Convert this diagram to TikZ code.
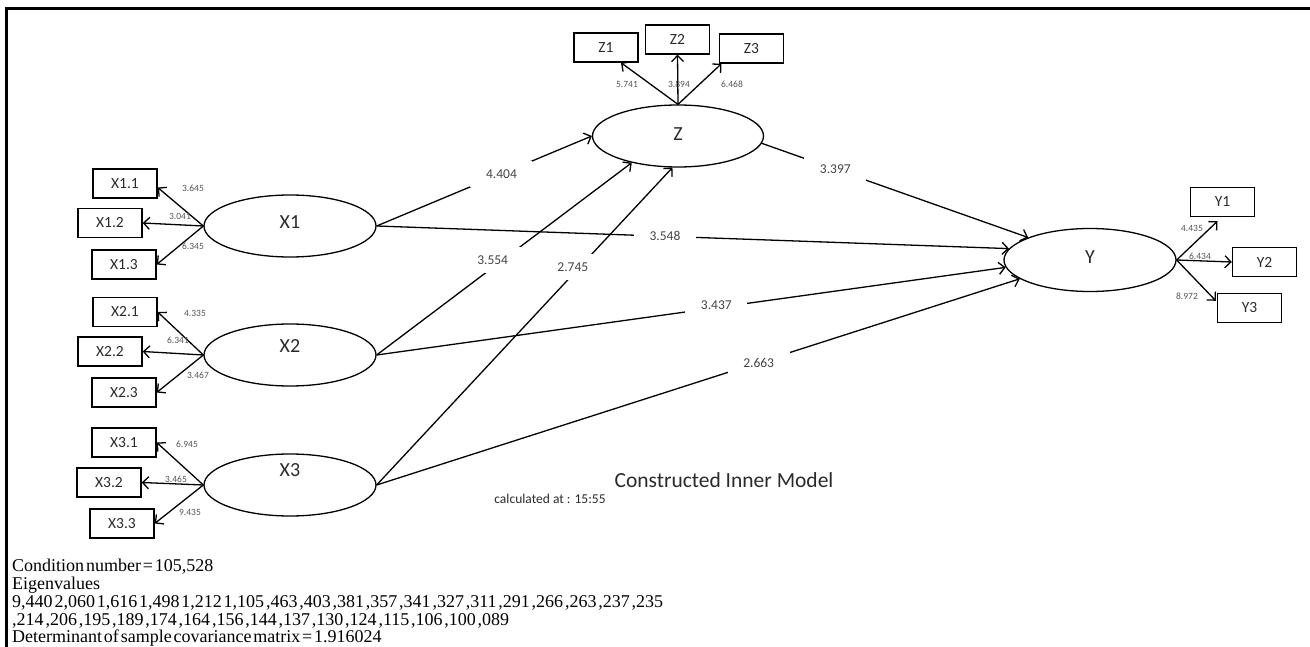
\documentclass[tikz,border=0pt]{standalone}
\usepackage{fontspec}
\setmainfont{Carlito}
\newfontfamily\bottomserif{Liberation Serif}
\usetikzlibrary{arrows.meta,shapes.geometric}
\definecolor{txt}{HTML}{2A2A2A}
\definecolor{coefc}{HTML}{444444}
\definecolor{mlc}{HTML}{555555}
\newcommand\tightsp{\spaceskip=0.1em plus 0.02em\relax}
\begin{document}
\begin{tikzpicture}[x=1pt,y=-1pt,
  ind/.style={draw, line width=1.4pt, minimum width=64pt, minimum height=29pt, inner sep=0pt, text=txt, font=\fontsize{15.5}{15.5}\selectfont},
  lat/.style={draw, ellipse, line width=1.3pt, minimum width=172pt, minimum height=62pt, inner sep=0pt},
  latlab/.style={text=txt, inner sep=0pt, font=\fontsize{20}{20}\selectfont},
  con/.style={line width=1.3pt, -{Straight Barb[length=6pt,width=12pt,line width=1.3pt]}},
  coef/.style={fill=white, inner sep=0pt, minimum width=62pt, minimum height=26pt, text=coefc, font=\fontsize{13.5}{13.5}\selectfont},
  mlab/.style={text=mlc, inner sep=0pt, font=\fontsize{9.5}{9.5}\selectfont},
  btxt/.style={anchor=base west, inner sep=0pt, font=\bottomserif\fontsize{18}{18}\selectfont},
]
\useasboundingbox (0,0) rectangle (1310,647);
% frame
\draw[line width=3pt] (6.5,647) -- (6.5,8.5) -- (1310,8.5);

% latent variables
\node[lat] (X1) at (290,226) {};
\node[lat] (X2) at (290,355) {};
\node[lat] (X3) at (290,485) {};
\node[lat, minimum width=171pt] (Z) at (678,136) {};
\node[lat, minimum height=63pt] (Y) at (1090,260) {};
\node[latlab] (X1t) at ([yshift=4pt]X1.center) {X1};
\node[latlab] (X2t) at ([yshift=9pt]X2.center) {X2};
\node[latlab] (X3t) at ([yshift=15pt]X3.center) {X3};
\node[latlab] (Zt) at ([yshift=2pt]Z.center) {Z};
\node[latlab] (Yt) at ([yshift=3pt]Y.center) {Y};

% indicators
\node[ind] (X11) at (125,183.5) {X1.1};
\node[ind] (X12) at (110,223) {X1.2};
\node[ind] (X13) at (124,264.5) {X1.3};
\node[ind] (X21) at (125,312) {X2.1};
\node[ind] (X22) at (110,351.5) {X2.2};
\node[ind] (X23) at (124,392.5) {X2.3};
\node[ind] (X31) at (124,442.5) {X3.1};
\node[ind] (X32) at (109,482.5) {X3.2};
\node[ind] (X33) at (122,523.5) {X3.3};
\node[ind] (Z1) at (606,47.5) {Z1};
\node[ind] (Z2) at (677.5,39.5) {Z2};
\node[ind] (Z3) at (751.5,48.5) {Z3};
\node[ind] (Y1) at (1222.5,202) {Y1};
\node[ind] (Y2) at (1264.5,262) {Y2};
\node[ind] (Y3) at (1249.5,308) {Y3};

% outer model arrows
\draw[con] (X1.west) -- ([yshift=-4pt]X11.east);
\draw[con] (X1.west) -- (X12.east);
\draw[con] (X1.west) -- (X13.east);
\draw[con] (X2.west) -- (X21.east);
\draw[con] (X2.west) -- (X22.east);
\draw[con] (X2.west) -- (X23.east);
\draw[con] (X3.west) -- (X31.east);
\draw[con] (X3.west) -- (X32.east);
\draw[con] (X3.west) -- (X33.east);
\draw[con] (Z.north) -- ([xshift=15pt]Z1.south);
\draw[con] (Z.north) -- (Z2.south);
\draw[con] (Z.north) -- ([xshift=-30pt]Z3.south);
\draw[con] (Y.east) -- ([shift={(-5pt,-4pt)}]Y1.south);
\draw[con] (Y.east) -- (Y2.west);
\draw[con] (Y.east) -- ([shift={(-1pt,-8pt)}]Y3.north west);

% outer loadings
\node[mlab] (l11) at (193,188) {3.645};
\node[mlab] (l12) at (180,216) {3.041};
\node[mlab] (l13) at (193,246) {6.345};
\node[mlab] (l21) at (195,313) {4.335};
\node[mlab] (l22) at (178,340) {6.341};
\node[mlab] (l23) at (198,375) {3.467};
\node[mlab] (l31) at (187,444) {6.945};
\node[mlab] (l32) at (176,479) {3.465};
\node[mlab] (l33) at (190,512) {9.435};
\node[mlab] (lz1) at (627,84) {5.741};
\node[mlab] (lz2) at (679,84) {3.894};
\node[mlab] (lz3) at (732,84) {6.468};
\node[mlab] (ly1) at (1192,228) {4.435};
\node[mlab] (ly2) at (1200,256) {6.434};
\node[mlab] (ly3) at (1187,296) {8.972};

% inner model arrows
\draw[con] (X1.east) -- node[coef, pos=0.58] (c1) {4.404} (Z.west);
\draw[con] (X2.east) -- node[coef, pos=0.494, xshift=-10pt] (c2) {3.554} (Z.210);
\draw[con] (X3.east) -- node[coef, pos=0.687, xshift=-7pt] (c3) {2.745} (Z.260);
\draw[con] (Z.355) -- node[coef, pos=0.276] (c4) {3.397} (Y.160);
\draw[con] (X1.east) -- node[coef, pos=0.456] (c5) {3.548} (Y.172);
\draw[con] (X2.east) -- node[coef, pos=0.54, yshift=3pt] (c6) {3.437} (Y.185);
\draw[con] (X3.east) -- node[coef, pos=0.594] (c7) {2.663} (Y.195);

% captions
\node[anchor=base, inner sep=0pt, text=txt, font=\fontsize{21.5}{21.5}\selectfont] (cap) at (724,487) {Constructed Inner Model};
\node[anchor=base, inner sep=0pt, text=txt, font=\fontsize{13.5}{13.5}\selectfont] (calc) at (550,503.5) {calculated at : 15:55};

% bottom text
\node[btxt] (b1) at (12,571) {\tightsp Condition number = 105,528};
\node[btxt] (b2) at (12,589) {Eigenvalues};
\node[btxt] (b3) at (12,607) {\tightsp 9,440 2,060 1,616 1,498 1,212 1,105 ,463 ,403 ,381 ,357 ,341 ,327 ,311 ,291 ,266 ,263 ,237 ,235};
\node[btxt] (b4) at (12,625) {\tightsp ,214 ,206 ,195 ,189 ,174 ,164 ,156 ,144 ,137 ,130 ,124 ,115 ,106 ,100 ,089};
\node[btxt] (b5) at (12,642.5) {\tightsp Determinant of sample covariance matrix = 1.916024};
\end{tikzpicture}
\end{document}
